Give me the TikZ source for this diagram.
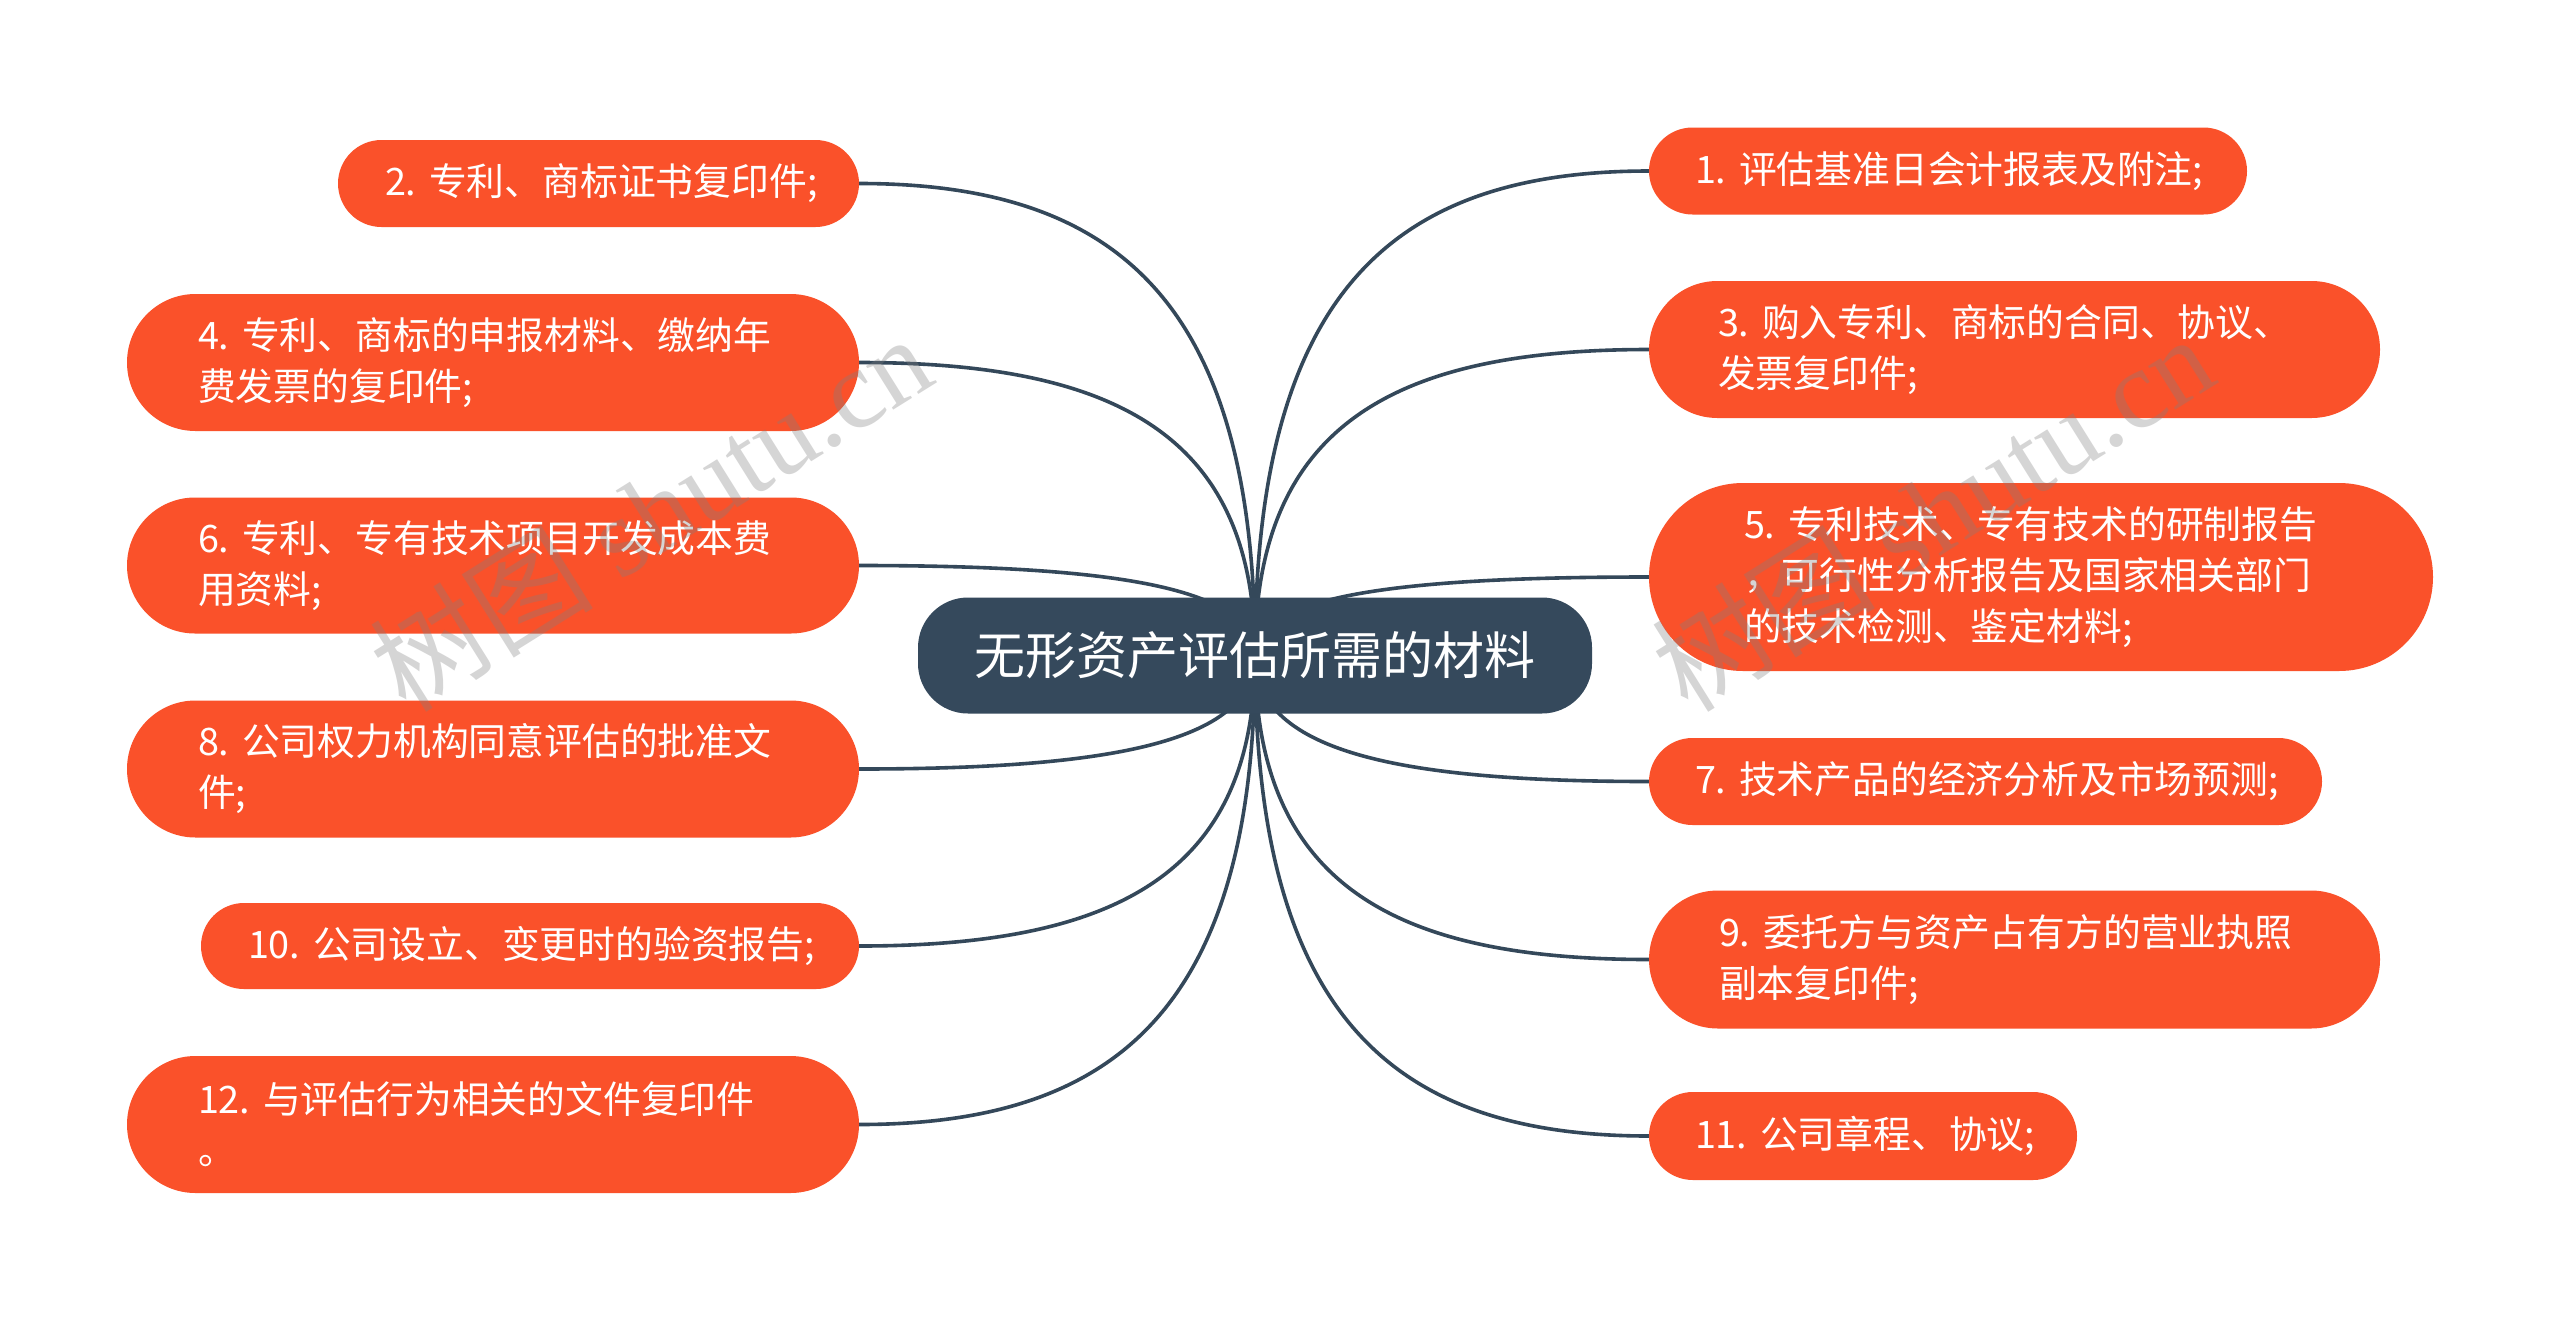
\documentclass[tikz,border=0pt]{standalone}
\usepackage{fontspec}
\setmainfont{Noto Sans CJK SC}
\newfontfamily\wmlatin{Liberation Serif}
\usetikzlibrary{calc,backgrounds}
\definecolor{leafc}{RGB}{250,81,42}
\definecolor{rootc}{RGB}{53,73,92}
\definecolor{linec}{RGB}{52,72,90}
\tikzset{
  leaf/.style={rectangle, fill=leafc, text=white, align=left, inner ysep=0pt,
    font=\fontsize{37.8}{51}\selectfont},
  rootbox/.style={rectangle, fill=rootc, text=white, align=center,
    minimum width=674pt, minimum height=116pt, rounded corners=50pt,
    font=\fontsize{51}{60}\selectfont},
  conn/.style={draw=linec, line width=3.6pt},
  wmark/.style={text=gray, opacity=0.33, rotate=32, font=\fontsize{112}{112}\selectfont}
}
\newcommand\lnk[2]{\draw[conn] (c.center) .. controls ($(c.center)!0.75!(c.center|-#1.#2)$) and ($(#1.#2)!0.65!(#1.#2-|c.center)$) .. (#1.#2);}
\begin{document}
\begin{tikzpicture}[x=1pt,y=-1pt]
\useasboundingbox (0,0) rectangle (2560,1323);

\node[rootbox] (c) at (1255,655.5) {无形资产评估所需的材料};

% left side
\node[leaf, minimum height=87pt, text width=427pt, inner xsep=47pt, rounded corners=43.5pt] (n2) at (598.5,183.5) {2.~专利、商标证书复印件;};
\node[leaf, minimum height=137pt, text width=590pt, inner xsep=71pt, rounded corners=68.5pt] (n4) at (493,362.5) {4.~专利、商标的申报材料、缴纳年\\费发票的复印件;};
\node[leaf, minimum height=136pt, text width=590pt, inner xsep=71pt, rounded corners=68pt] (n6) at (493,565.5) {6.~专利、专有技术项目开发成本费\\用资料;};
\node[leaf, minimum height=137pt, text width=590pt, inner xsep=71pt, rounded corners=68.5pt] (n8) at (493,769) {8.~公司权力机构同意评估的批准文\\件;};
\node[leaf, minimum height=86pt, text width=564pt, inner xsep=47pt, rounded corners=43pt] (n10) at (530,946) {10.~公司设立、变更时的验资报告;};
\node[leaf, minimum height=137pt, text width=590pt, inner xsep=71pt, rounded corners=68.5pt] (n12) at (493,1124.5) {12.~与评估行为相关的文件复印件\\。};

% right side
\node[leaf, minimum height=87pt, text width=506pt, inner xsep=46pt, rounded corners=43.5pt] (n1) at (1948,171) {1.~评估基准日会计报表及附注;};
\node[leaf, minimum height=137pt, text width=593pt, inner xsep=69pt, rounded corners=68.5pt] (n3) at (2014.5,349.5) {3.~购入专利、商标的合同、协议、\\发票复印件;};
\node[leaf, minimum height=188pt, text width=594pt, inner xsep=95pt, rounded corners=94pt] (n5) at (2041,577) {5.~专利技术、专有技术的研制报告\\，可行性分析报告及国家相关部门\\的技术检测、鉴定材料;};
\node[leaf, minimum height=87pt, text width=581pt, inner xsep=46pt, rounded corners=43.5pt] (n7) at (1985.5,781.5) {7.~技术产品的经济分析及市场预测;};
\node[leaf, minimum height=138pt, text width=591pt, inner xsep=70pt, rounded corners=69pt] (n9) at (2014.5,959.5) {9.~委托方与资产占有方的营业执照\\副本复印件;};
\node[leaf, minimum height=88pt, text width=336pt, inner xsep=46pt, rounded corners=44pt] (n11) at (1863,1136) {11.~公司章程、协议;};

\begin{scope}[on background layer]
\fill[white] (0,0) rectangle (2560,1323);
\lnk{n2}{east}
\lnk{n4}{east}
\lnk{n6}{east}
\lnk{n8}{east}
\lnk{n10}{east}
\lnk{n12}{east}
\lnk{n1}{west}
\lnk{n3}{west}
\lnk{n5}{west}
\lnk{n7}{west}
\lnk{n9}{west}
\lnk{n11}{west}
\end{scope}

% watermarks
\node[wmark] (wm1) at (650,512) {树图{\wmlatin\ shutu.cn}};
\node[wmark] (wm2) at (1932,512) {树图{\wmlatin\ shutu.cn}};
\end{tikzpicture}
\end{document}
